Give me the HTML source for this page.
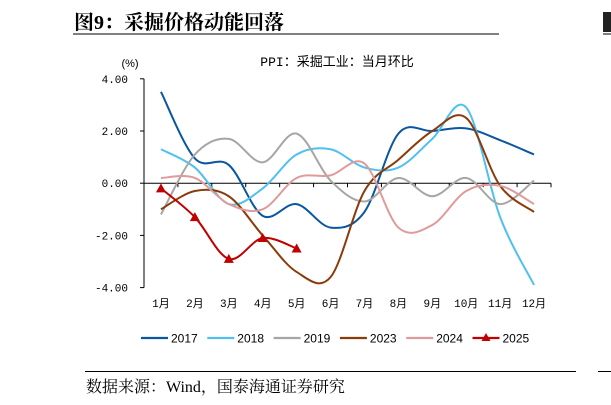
<!DOCTYPE html>
<html><head><meta charset="utf-8">
<style>
body{margin:0;background:#fff;width:611px;height:405px;overflow:hidden;position:relative;font-family:"Liberation Sans","Noto Sans CJK SC",sans-serif}
.abs{position:absolute}
</style></head><body>
<div class="abs" style="left:74px;top:6px;font:bold 20px 'Liberation Serif','Noto Serif CJK SC',serif;color:#000">图9：采掘价格动能回落</div>
<div class="abs" style="left:73px;top:33px;width:426px;height:2px;background:#808080"></div>
<div class="abs" style="left:603px;top:12px;width:8px;height:20px;background:#222"></div>
<div class="abs" style="left:603px;top:33px;width:8px;height:2px;background:#808080"></div>
<svg class="abs" style="left:0;top:0" width="611" height="405" id="chart"></svg>
<div class="abs" style="left:85px;top:371px;width:491px;height:1px;background:#000"></div>
<div class="abs" style="left:598px;top:371px;width:13px;height:1px;background:#000"></div>
<div class="abs" style="left:86px;top:374px;font:16px 'Liberation Serif','Noto Serif CJK SC',serif;color:#000">数据来源：Wind，国泰海通证券研究</div>
<script>
const months=["1月","2月","3月","4月","5月","6月","7月","8月","9月","10月","11月","12月"];
const yTicks=[4,2,0,-2,-4];
const seriesNames=["2017","2018","2019","2023","2024","2025"];
const seriesColors=["#0b56a0","#4fc0f0","#a6a6a6","#8b3a0a","#e09a9a","#c00000"];
const s2017=[3.5,0.95,0.7,-1.25,-0.8,-1.7,-1.1,1.9,2.0,2.1,1.65,1.1];
const s2018=[1.3,0.6,-0.8,-0.2,1.1,1.3,0.6,0.6,1.7,2.9,-1.3,-3.9];
const s2019=[-1.2,1.1,1.7,0.8,1.9,0.1,-0.7,0.2,-0.5,0.2,-0.8,0.1];
const s2023=[-1.0,-0.3,-0.5,-2.0,-3.4,-3.6,-0.3,0.9,2.0,2.5,-0.1,-1.1];
const s2024=[0.2,0.2,-0.8,-1.0,0.2,0.3,0.75,-1.7,-1.6,-0.3,-0.1,-0.8];
const s2025=[-0.2,-1.3,-2.9,-2.1,-2.5];
const allSeries=[s2017,s2018,s2019,s2023,s2024,s2025];
const NS="http://www.w3.org/2000/svg";
const svg=document.getElementById('chart');
const X0=144,X1=551,Y4=78.5,PU=26.1;
const xs=i=>X0+(X1-X0)/12*(i+0.5);
const ys=v=>183.2-v*PU;
function mk(t,a,p){const e=document.createElementNS(NS,t);for(const k in a)e.setAttribute(k,a[k]);(p||svg).appendChild(e);return e;}
// chart title
let t=mk('text',{x:337,y:66,'text-anchor':'middle','font-size':'13','font-family':"'Liberation Mono','Noto Sans CJK SC',monospace"});


t.textContent='PPI：采掘工业：当月环比';
t=mk('text',{x:130,y:67,'text-anchor':'middle','font-size':'11'});


t.textContent='(%)';
// y axis
let ax=mk('line',{x1:X0,y1:ys(4),x2:X0,y2:ys(-4),stroke:'#000','stroke-width':1});


yTicks.forEach(v=>{
 let l=mk('line',{x1:X0-4,y1:ys(v),x2:X0,y2:ys(v),stroke:'#000'});
 
 
 let tx=mk('text',{x:X0-16,y:ys(v)+4,'text-anchor':'end','font-size':'11','font-family':"'Liberation Mono',monospace"});
 
 
 tx.textContent=v.toFixed(2);
});
ax=mk('line',{x1:X0,y1:ys(0),x2:X1,y2:ys(0),stroke:'#000'});


for(let i=0;i<=12;i++){let l=mk('line',{x1:X0+(X1-X0)/12*i,y1:ys(0),x2:X0+(X1-X0)/12*i,y2:ys(0)+4,stroke:'#000'});
 
 }
months.forEach((m,i)=>{let tx=mk('text',{x:xs(i),y:307,'text-anchor':'middle','font-size':'11','font-family':"'Liberation Mono','Noto Sans CJK SC',monospace"});
 
 
 tx.textContent=m;});
function smooth(pts){let d='M'+pts[0][0]+','+pts[0][1];
 for(let i=0;i<pts.length-1;i++){const p0=pts[i-1]||pts[i],p1=pts[i],p2=pts[i+1],p3=pts[i+2]||p2;
  const c1=[p1[0]+(p2[0]-p0[0])/6,p1[1]+(p2[1]-p0[1])/6],c2=[p2[0]-(p3[0]-p1[0])/6,p2[1]-(p3[1]-p1[1])/6];
  d+=' C'+c1+' '+c2+' '+p2;}return d;}
allSeries.forEach((s,k)=>{
 const pts=s.map((v,i)=>[xs(i),ys(v)]);
 let p=mk('path',{d:smooth(pts),fill:'none',stroke:seriesColors[k],'stroke-width':2});
 
 
 if(k===5)pts.forEach(q=>{let m=mk('polygon',{points:`${q[0]},${q[1]-5} ${q[0]-5},${q[1]+4} ${q[0]+5},${q[1]+4}`,fill:seriesColors[k]});
  
  });
});
// legend
seriesNames.forEach((n,k)=>{const lx=141+k*66.3,ly=338;
 let g=mk('g',{});
 
 
 mk('line',{x1:lx,y1:ly,x2:lx+27,y2:ly,stroke:seriesColors[k],'stroke-width':2.2},g);
 if(k===5)mk('polygon',{points:`${lx+13.5},${ly-5} ${lx+9},${ly+3} ${lx+18},${ly+3}`,fill:seriesColors[k]},g);
 let tx=mk('text',{x:lx+30,y:ly+4.5,'font-size':'12'},g);tx.textContent=n;});
</script>
</body></html>
